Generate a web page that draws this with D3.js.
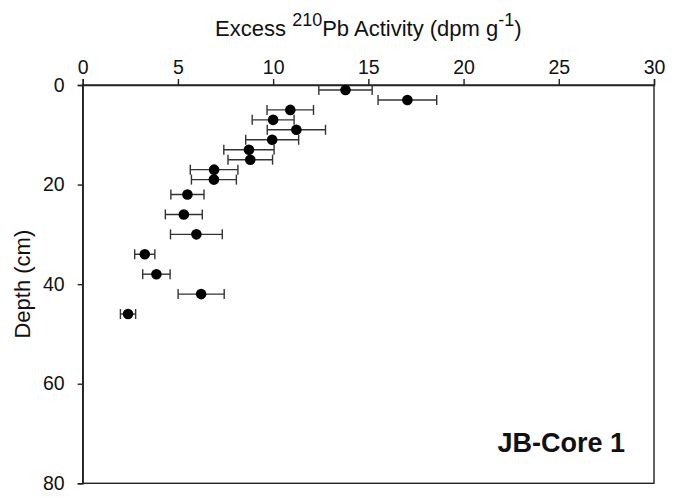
<!DOCTYPE html>
<html>
<head>
<meta charset="utf-8">
<script src="https://cdn.jsdelivr.net/npm/d3@7"></script>
<style>
  html, body { margin: 0; padding: 0; background: #fff; }
  svg { display: block; font-family: "Liberation Sans", Arial, sans-serif; }
</style>
</head>
<body>
<svg id="chart" width="677" height="498"></svg>
<script>
// Excess 210Pb activity profile, JB-Core 1
const depthCm   = [1, 3, 5, 7, 9, 11, 13, 15, 17, 19, 22, 26, 30, 34, 38, 42, 46];
const activity  = [13.8, 17.05, 10.9, 10.0, 11.22, 9.95, 8.73, 8.8, 6.9, 6.89, 5.5, 5.31, 5.97, 3.26, 3.87, 6.22, 2.38];
const errorBars = [1.4, 1.54, 1.22, 1.1, 1.53, 1.39, 1.32, 1.17, 1.25, 1.18, 0.87, 0.97, 1.36, 0.53, 0.72, 1.21, 0.40];
const xTicks = [0, 5, 10, 15, 20, 25, 30];
const yTicks = [0, 20, 40, 60, 80];
const coreLabel = "JB-Core 1";

const svg = d3.select("#chart");
const plotLeft = 82.7, plotRight = 654, plotTop = 85, plotBottom = 483.3;

const x = d3.scaleLinear().domain([0, 30]).range([plotLeft, plotRight]);
const y = d3.scaleLinear().domain([0, 80]).range([plotTop, plotBottom]);

const ink = "#222";

// frame
svg.append("rect")
  .attr("x", plotLeft).attr("y", plotTop)
  .attr("width", plotRight - plotLeft).attr("height", plotBottom - plotTop)
  .attr("fill", "none").attr("stroke", ink).attr("stroke-width", 1.4);

// top axis
const xAxis = svg.append("g")
  .attr("transform", `translate(0,${plotTop})`)
  .call(d3.axisTop(x).tickValues(xTicks).tickSize(6).tickPadding(5).tickFormat(d3.format("d")));

// left axis
const yAxis = svg.append("g")
  .attr("transform", `translate(${plotLeft},0)`)
  .call(d3.axisLeft(y).tickValues(yTicks).tickSize(5).tickPadding(13).tickFormat(d3.format("d")));

[xAxis, yAxis].forEach(g => {
  g.select(".domain").attr("stroke", ink).attr("stroke-width", 1.4);
  g.selectAll(".tick line").attr("stroke", ink).attr("stroke-width", 1.4);
  g.selectAll(".tick text").attr("fill", "#111").style("font-size", "19.5px")
    .style("font-family", "'Liberation Sans', Arial, sans-serif");
});

// titles
const xTitle = svg.append("text")
  .attr("x", (plotLeft + plotRight) / 2).attr("y", 36)
  .attr("text-anchor", "middle")
  .attr("fill", "#111").style("font-size", "22px");
xTitle.append("tspan").text("Excess ");
xTitle.append("tspan").attr("dy", -10).style("font-size", "18px").text("210");
xTitle.append("tspan").attr("dy", 10).text("Pb Activity (dpm g");
xTitle.append("tspan").attr("dy", -10).style("font-size", "18px").text("-1");
xTitle.append("tspan").attr("dy", 10).text(")");

svg.append("text")
  .attr("transform", `translate(30,${(plotTop + plotBottom) / 2}) rotate(-90)`)
  .attr("text-anchor", "middle")
  .attr("fill", "#111").style("font-size", "22px")
  .text("Depth (cm)");

// data
const rows = depthCm.map((d, i) => ({ depth: d, value: activity[i], err: errorBars[i] }));

const bars = svg.append("g").attr("stroke", "#333").attr("stroke-width", 1.4);
bars.selectAll("line.whisker").data(rows).join("line")
  .attr("class", "whisker")
  .attr("x1", d => x(d.value - d.err)).attr("x2", d => x(d.value + d.err))
  .attr("y1", d => y(d.depth)).attr("y2", d => y(d.depth));
bars.selectAll("line.capL").data(rows).join("line")
  .attr("class", "capL")
  .attr("x1", d => x(d.value - d.err)).attr("x2", d => x(d.value - d.err))
  .attr("y1", d => y(d.depth) - 5).attr("y2", d => y(d.depth) + 5);
bars.selectAll("line.capR").data(rows).join("line")
  .attr("class", "capR")
  .attr("x1", d => x(d.value + d.err)).attr("x2", d => x(d.value + d.err))
  .attr("y1", d => y(d.depth) - 5).attr("y2", d => y(d.depth) + 5);

svg.append("g").selectAll("circle").data(rows).join("circle")
  .attr("cx", d => x(d.value)).attr("cy", d => y(d.depth))
  .attr("r", 5.3).attr("fill", "#000");

// core label
svg.append("text")
  .attr("x", 625).attr("y", 451.5)
  .attr("text-anchor", "end")
  .attr("fill", "#111")
  .style("font-size", "27px").style("font-weight", "bold")
  .text(coreLabel);
</script>
</body>
</html>
